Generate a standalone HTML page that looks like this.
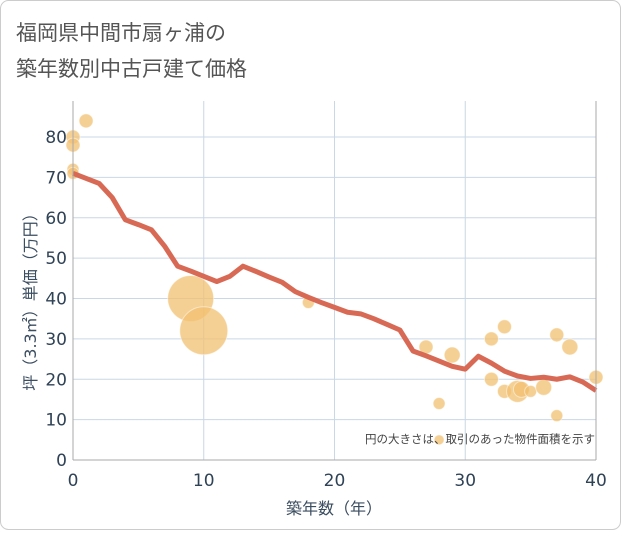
<!DOCTYPE html>
<html><head><meta charset="utf-8"><style>
body{margin:0;background:#fff;}
svg text{font-family:"DejaVu Sans","Noto Sans CJK JP",sans-serif;}
</style></head><body>
<svg width="621" height="530" viewBox="0 0 621 530">
<rect x="0.5" y="0.5" width="620" height="529" rx="8" fill="#fff" stroke="#ccc"/>
<text x="16" y="40" font-size="21" fill="#555">福岡県中間市扇ヶ浦の</text>
<text x="16" y="76" font-size="21" fill="#555">築年数別中古戸建て価格</text>
<g id="grid"></g>
<g id="bubbles"></g>
<path id="line" fill="none" stroke="#d86a55" stroke-width="5" stroke-linejoin="round"/>
<g id="axes"></g>
<text x="595" y="443" font-size="11.5" fill="#444" text-anchor="end">円の大きさは、取引のあった物件面積を示す</text>
<text x="334" y="514" font-size="16" fill="#3b4d60" text-anchor="middle">築年数（年）</text>
<text transform="translate(36,298) rotate(-90)" font-size="16" fill="#3b4d60" text-anchor="middle">坪（3.3㎡）単価（万円）</text>
</svg>
<script>
const xTicks=[0,10,20,30,40];
const yTicks=[0,10,20,30,40,50,60,70,80];
const lineX=[0,2,3,4,5,6,7,8,9,10,11,12,13,14,15,16,17,18,19,20,21,22,23,24,25,26,27,28,29,30,31,32,33,34,35,36,37,38,39,40];
const lineY=[71,68.5,65,59.5,58.3,57,53,48,46.8,45.5,44.2,45.5,48,46.7,45.3,44,41.7,40.3,39,37.8,36.6,36.2,35,33.6,32.2,27,25.8,24.5,23.2,22.5,25.7,24,22,20.8,20.2,20.5,20,20.6,19.3,17.2];
const bubX=[0,0,0,0,1,9,10,18,27,28,28,29,32,32,33,33,34,34.3,35,36,37,37,38,40];
const bubY=[80,78,72,71,84,40,32,39,28,14,5,26,30,20,33,17,17,17.5,17,18,31,11,28,20.5];
const bubR=[7,7,6,6,7,23,24,6,7,6,5,8,7,7,7,7,11,8,6,8,7,6,8,7];
const X0=73,X1=596,Y0=460,Y1=137;
const sx=v=>X0+(X1-X0)*v/40, sy=v=>Y0-(Y0-Y1)*v/80;
const NS="http://www.w3.org/2000/svg";
const mk=(t,a,p)=>{const e=document.createElementNS(NS,t);for(const k in a)e.setAttribute(k,a[k]);p.appendChild(e);return e;};
const grid=document.getElementById('grid'),axes=document.getElementById('axes');
mk('rect',{x:X0,y:101,width:X1-X0,height:Y0-101,fill:'#fff'},grid);
yTicks.forEach(v=>{if(v===0)return;const l=mk('line',{x1:X0,x2:X1,y1:sy(v),y2:sy(v),stroke:'#c9d7e6','stroke-width':1},grid);

});
xTicks.forEach(v=>{if(v===0||v===40)return;const l=mk('line',{x1:sx(v),x2:sx(v),y1:101,y2:Y0,stroke:'#c9d7e6','stroke-width':1},grid);

});
mk('line',{x1:X0,x2:X0,y1:101,y2:Y0,stroke:'#aaa'},axes);
mk('line',{x1:X1,x2:X1,y1:101,y2:Y0,stroke:'#aaa'},axes);
mk('line',{x1:X0,x2:X1,y1:Y0,y2:Y0,stroke:'#aaa'},axes);
yTicks.forEach(v=>{const t=mk('text',{x:X0-6,y:sy(v)+6,'font-size':17,fill:'#2f4256','text-anchor':'end'},axes);t.textContent=v;

});
xTicks.forEach(v=>{const t=mk('text',{x:sx(v),y:486,'font-size':17,fill:'#2f4256','text-anchor':'middle'},axes);t.textContent=v;

});
const bg=document.getElementById('bubbles');
bubX.forEach((v,i)=>{const c=mk('circle',{cx:sx(v),cy:sy(bubY[i]),r:bubR[i],fill:'#f2c070','fill-opacity':0.75,stroke:'#fff','stroke-opacity':0.5},bg);

});
document.getElementById('line').setAttribute('d',lineX.map((v,i)=>(i?'L':'M')+sx(v)+','+sy(lineY[i])).join(''));
</script>
</body></html>
